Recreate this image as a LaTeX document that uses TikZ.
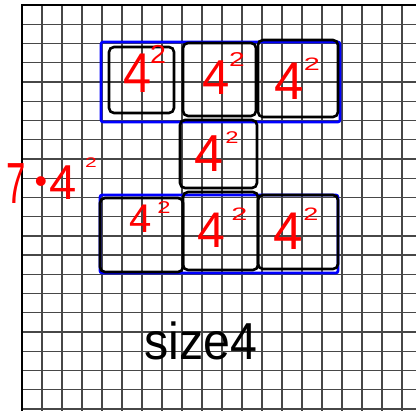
\documentclass[tikz,border=0pt]{standalone}
\usepackage{fontspec}
\setmainfont{Liberation Sans}
\begin{document}
\begin{tikzpicture}[x=1pt,y=-1pt,
  gridline/.style={black!72, line width=1.3pt},
  border/.style={black, line width=2.4pt},
  bluebox/.style={draw=blue, line width=2.6pt, rounded corners=2pt, inner sep=0pt},
  sq/.style={draw=black, line width=2.6pt, rounded corners=5pt, inner sep=0pt},
  four/.style={text=red, inner sep=0pt, font=\fontsize{#1pt}{#1pt}\selectfont},
  hand/.style={text=black, inner sep=0pt, font=\fontsize{#1pt}{#1pt}\selectfont}]
\useasboundingbox (0,0) rectangle (416,411);
\fill[white] (0,0) rectangle (416,411);
% grid
\foreach \k in {1,...,19} \draw[gridline] (22+20*\k,5) -- (22+20*\k,411);
\foreach \k in {1,...,21} \draw[gridline] (22,5+19.24*\k) -- (416,5+19.24*\k);
\draw[border] (22,411) -- (22,5) -- (416,5);
% blue outlines
\node[bluebox, minimum width=239pt, minimum height=80pt] (topblue) at (220.5,82) {};
\node[bluebox, minimum width=238pt, minimum height=78pt] (botblue) at (219,234) {};
% black squares
\node[sq, minimum width=65pt, minimum height=66pt] (t1) at (141.5,80) {};
\node[sq, minimum width=73pt, minimum height=73pt] (t2) at (219.5,79.5) {};
\node[sq, minimum width=80pt, minimum height=77pt] (t3) at (298,78.5) {};
\node[sq, minimum width=77pt, minimum height=68pt] (m) at (218.5,154) {};
\node[sq, minimum width=83pt, minimum height=74pt] (b1) at (141.5,235) {};
\node[sq, minimum width=75pt, minimum height=78pt] (b2) at (220.5,231) {};
\node[sq, minimum width=80pt, minimum height=74pt] (b3) at (298,232) {};
% labels 4^2
\node[four=56, xscale=0.9] (f1) at (137.5,73) {4};
\node[four=26, xscale=1.1] (s1) at (158,54) {2};
\node[four=49] (f2) at (216,77.5) {4};
\node[four=20, xscale=1.4] (s2) at (237,60) {2};
\node[four=53] (f3) at (289,81) {4};
\node[four=18, xscale=1.6] (s3) at (312,64) {2};
\node[four=52] (f4) at (208.5,153.5) {4};
\node[four=17, xscale=1.4] (s4) at (232,137.5) {2};
\node[four=40] (f5) at (141,219) {4};
\node[four=17, xscale=1.4] (s5) at (164,207.5) {2};
\node[four=50] (f6) at (211.5,230) {4};
\node[four=18, xscale=1.6] (s6) at (239.5,214) {2};
\node[four=53] (f7) at (288.5,231) {4};
\node[four=18, xscale=1.5] (s7) at (311,214) {2};
% 7 . 4^2
\node[four=58, xscale=0.6] (seven) at (16.5,184) {7};
\node[four=36, anchor=base] (dot) at (41,194) {•};
\node[four=49] (lf) at (63,182.5) {4};
\node[four=14, xscale=1.5] (ls) at (91,162.5) {2};
% size4
\node[hand=52, anchor=base, xscale=0.93] (size) at (201,360) {size4};
\end{tikzpicture}
\end{document}
